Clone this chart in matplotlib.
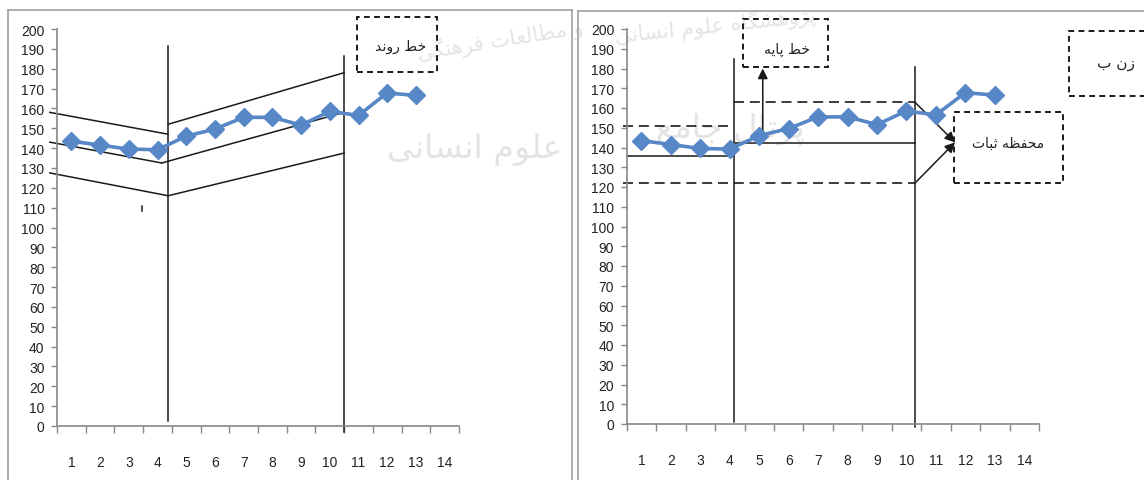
import numpy as np
import matplotlib.pyplot as plt
from matplotlib.lines import Line2D
from matplotlib.patches import Rectangle

#%% data
sessions = list(range(1, 14))
scores = [143.5, 141.5, 139.5, 139.2, 146, 149.6, 155.5, 155.5, 151.6, 158.5, 156.5, 167.8, 166.5]
x_ticks = list(range(1, 15))
y_ticks = list(range(0, 201, 10))

# left panel: trend lines (x, y pairs in data units)
trend_phase1_x = [0.25, 4.37]
trend_phase1_upper = [158, 147]
trend_phase1_mid_x = [0.25, 4.15]
trend_phase1_mid = [143, 132.5]
trend_phase1_lower = [127.5, 116]
trend_phase2_x = [4.37, 10.5]
trend_phase2_mid_x = [4.15, 10.5]
trend_phase2_upper = [152, 178]
trend_phase2_mid = [132.5, 158]
trend_phase2_lower = [116, 137.5]

# right panel: base line and stability envelope
base_phase1 = 135.8
base_phase1_upper = 150.7
base_phase2 = 142.3
base_phase2_upper = 162.9
base_lower = 122

# Arabic/Persian shaping (matplotlib does no shaping, no RTL)
FORMS = {
    'ا': (0xFE8D, 0xFE8E), 'د': (0xFEA9, 0xFEAA), 'ذ': (0xFEAB, 0xFEAC),
    'ر': (0xFEAD, 0xFEAE), 'ز': (0xFEAF, 0xFEB0), 'ژ': (0xFB8A, 0xFB8B),
    'و': (0xFEED, 0xFEEE),
    'ب': (0xFE8F, 0xFE90, 0xFE91, 0xFE92), 'پ': (0xFB56, 0xFB57, 0xFB58, 0xFB59),
    'ت': (0xFE95, 0xFE96, 0xFE97, 0xFE98), 'ث': (0xFE99, 0xFE9A, 0xFE9B, 0xFE9C),
    'ج': (0xFE9D, 0xFE9E, 0xFE9F, 0xFEA0), 'ح': (0xFEA1, 0xFEA2, 0xFEA3, 0xFEA4),
    'خ': (0xFEA5, 0xFEA6, 0xFEA7, 0xFEA8), 'س': (0xFEB1, 0xFEB2, 0xFEB3, 0xFEB4),
    'ش': (0xFEB5, 0xFEB6, 0xFEB7, 0xFEB8), 'ط': (0xFEC1, 0xFEC2, 0xFEC3, 0xFEC4),
    'ظ': (0xFEC5, 0xFEC6, 0xFEC7, 0xFEC8), 'ع': (0xFEC9, 0xFECA, 0xFECB, 0xFECC),
    'ف': (0xFED1, 0xFED2, 0xFED3, 0xFED4), 'ک': (0xFB8E, 0xFB8F, 0xFB90, 0xFB91),
    'گ': (0xFB92, 0xFB93, 0xFB94, 0xFB95), 'ل': (0xFEDD, 0xFEDE, 0xFEDF, 0xFEE0),
    'م': (0xFEE1, 0xFEE2, 0xFEE3, 0xFEE4), 'ن': (0xFEE5, 0xFEE6, 0xFEE7, 0xFEE8),
    'ه': (0xFEE9, 0xFEEA, 0xFEEB, 0xFEEC), 'ی': (0xFBFC, 0xFBFD, 0xFBFE, 0xFBFF),
}


def shape(text):
    out = []
    for i, c in enumerate(text):
        if c not in FORMS:
            out.append(c)
            continue
        prev = text[i - 1] if i > 0 else ''
        nxt = text[i + 1] if i + 1 < len(text) else ''
        jp = prev in FORMS and len(FORMS[prev]) == 4
        jn = len(FORMS[c]) == 4 and nxt in FORMS
        f = FORMS[c]
        if jp and jn:
            g = f[3]
        elif jp:
            g = f[1]
        elif jn:
            g = f[2]
        else:
            g = f[0]
        out.append(chr(g))
    return ''.join(reversed(out))


plt.rcParams['font.family'] = ['Liberation Sans', 'DejaVu Sans']

W, H = 1144, 481
fig = plt.figure(figsize=(W / 100, H / 100), dpi=100)

# faint watermark, kept clear of the tick labels
wm = dict(color='#e4e4e4', ha='center', va='center', family='DejaVu Sans', zorder=-5)
fig.text(715 / W, 1 - 26 / H, shape('پژوهشگاه علوم انسانی'), fontsize=15, rotation=6, **wm)
fig.text(500 / W, 1 - 40 / H, shape('و مطالعات فرهنگی'), fontsize=15, rotation=9, **wm)
fig.text(475 / W, 1 - 150 / H, shape('علوم انسانی'), fontsize=24, **wm)
fig.text(730 / W, 1 - 130 / H, shape('پرتال جامع'), fontsize=24, **wm)

# panel frames
frame_col = '#a0a0a0'
for xs, ys in [([8, 8], [481, 10.5]), ([8, 572], [10.5, 10.5]), ([572, 572], [10.5, 481]),
               ([578, 578], [481, 11.5]), ([578, 1144], [11.5, 11.5])]:
    fig.add_artist(Line2D([x / W for x in xs], [1 - y / H for y in ys], color=frame_col, lw=1.2))

ax1 = fig.add_axes([57 / W, 1 - 427 / H, (459 - 57) / W, (427 - 30) / H])
ax2 = fig.add_axes([626.7 / W, 1 - 425 / H, (1039 - 626.7) / W, (425 - 30) / H])

for ax in (ax1, ax2):
    ax.set_facecolor('none')
    ax.set_xlim(0.5, 14.5)
    ax.set_ylim(0, 200)
    for s in ('top', 'right'):
        ax.spines[s].set_visible(False)
    for s in ('left', 'bottom'):
        ax.spines[s].set_color('#888888')
        ax.spines[s].set_linewidth(1.2)
    ax.set_yticks(y_ticks)
    ax.tick_params(axis='y', length=4, width=1, color='#888888', pad=5, labelsize=10,
                   labelcolor='#222222')
    ax.set_xticks(np.arange(0.5, 15, 1))
    ax.set_xticklabels([])
    ax.set_xticks(x_ticks, minor=True)
    ax.set_xticklabels([str(t) for t in x_ticks], minor=True)
    ax.tick_params(axis='x', which='major', length=5, width=1, color='#888888')
    ax.tick_params(axis='x', which='minor', length=0, pad=21, labelsize=10,
                   labelcolor='#222222')
    ax.plot(sessions, scores, color='#5787c6', lw=2.6, marker='D', ms=9.5,
            markeredgecolor='#5787c6', zorder=5, clip_on=False)

k = dict(color='#1a1a1a', lw=1.1, clip_on=False)

#%% left panel: trend lines
ax1.plot([4.37, 4.37], [2.7, 191.6], **k)
ax1.plot([10.5, 10.5], [-3.2, 186.5], **k)
ax1.plot(trend_phase1_x, trend_phase1_upper, **k)
ax1.plot(trend_phase1_mid_x, trend_phase1_mid, **k)
ax1.plot(trend_phase1_x, trend_phase1_lower, **k)
ax1.plot(trend_phase2_x, trend_phase2_upper, **k)
ax1.plot(trend_phase2_mid_x, trend_phase2_mid, **k)
ax1.plot(trend_phase2_x, trend_phase2_lower, **k)
ax1.plot([3.46, 3.46], [108.2, 110.7], **k)

box = dict(fill=False, ls=(0, (3, 2.2)), lw=1.4, ec='#1a1a1a', clip_on=False)
ax1.add_patch(Rectangle((10.95, 178.3), 13.74 - 10.95, 206 - 178.3, **box))
ax1.text(12.45, 191.6, shape('خط روند'), ha='center', va='center', fontsize=10,
         family='DejaVu Sans', color='#222222')

#%% right panel: base line and stability envelope
d = dict(color='#1a1a1a', lw=1.2, ls=(0, (6, 3.5)), clip_on=False)
ax2.plot([4.15, 4.15], [1, 184.8], **k)
ax2.plot([10.29, 10.29], [-1.7, 180.6], **k)
ax2.plot([0.5, 4.15], [base_phase1, base_phase1], **k)
ax2.plot([0.375, 4.15], [base_phase1_upper, base_phase1_upper], **d)
ax2.plot([0.375, 10.29], [base_lower, base_lower], **d)
ax2.plot([4.15, 10.29], [base_phase2_upper, base_phase2_upper], **d)
ax2.plot([4.15, 10.29], [base_phase2, base_phase2], **k)

arr = dict(arrowstyle='-|>', color='#1a1a1a', lw=1.1, mutation_scale=15,
           shrinkA=0, shrinkB=0)
ax2.annotate('', xy=(11.65, 142.6), xytext=(10.29, base_phase2_upper),
             arrowprops=arr, annotation_clip=False)
ax2.annotate('', xy=(11.65, 142.6), xytext=(10.29, base_lower),
             arrowprops=arr, annotation_clip=False)
ax2.annotate('', xy=(5.12, 180), xytext=(5.12, base_phase2),
             arrowprops=arr, annotation_clip=False)

ax2.add_patch(Rectangle((4.44, 180.6), 7.33 - 4.44, 205 - 180.6, **box))
ax2.text(5.95, 190, shape('خط پایه'), ha='center', va='center', fontsize=10,
         family='DejaVu Sans', color='#222222')
ax2.add_patch(Rectangle((11.61, 122), 15.33 - 11.61, 158.1 - 122, **box))
ax2.text(13.45, 142.6, shape('محفظه ثبات'), ha='center', va='center', fontsize=10,
         family='DejaVu Sans', color='#222222')
ax2.add_patch(Rectangle((15.53, 166.2), 18.1 - 15.53, 199.1 - 166.2, **box))
ax2.text(17.1, 183, shape('زن ب'), ha='center', va='center', fontsize=11,
         family='DejaVu Sans', color='#222222')

fig.savefig('out.png', dpi=100)
